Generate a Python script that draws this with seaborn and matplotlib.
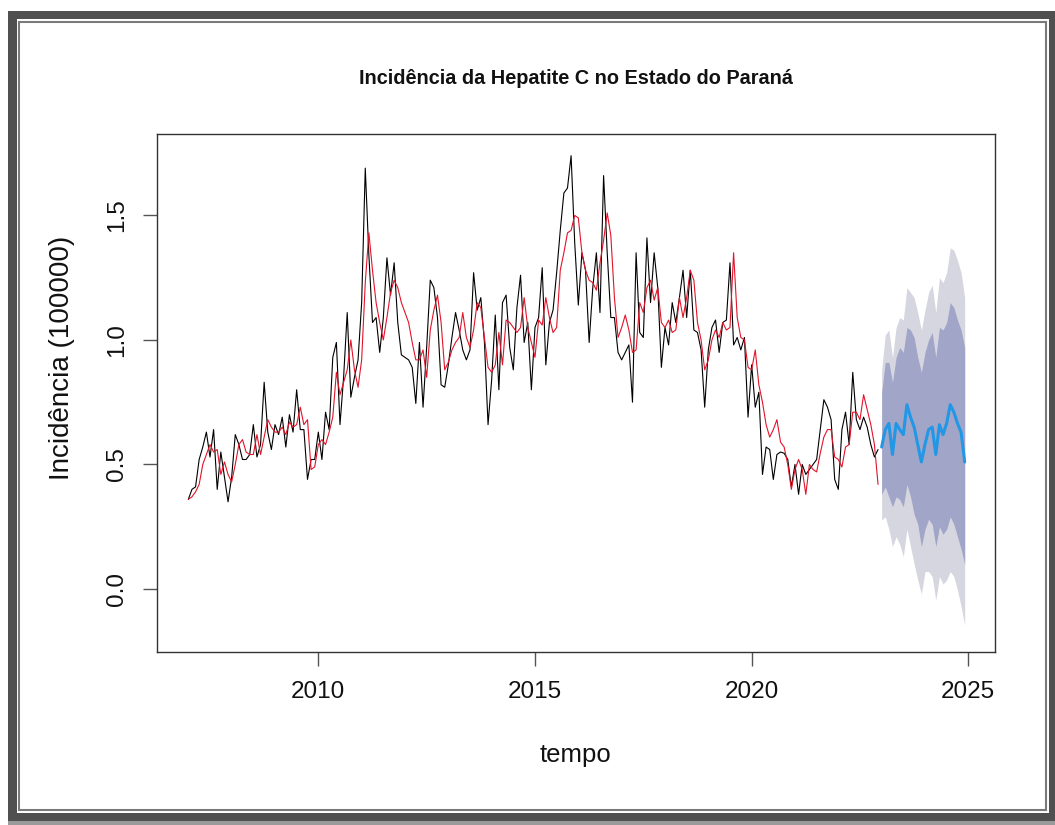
import numpy as np
import pandas as pd
import matplotlib
matplotlib.use("Agg")
import matplotlib.pyplot as plt
from matplotlib.patches import Rectangle
import seaborn as sns

# ---------------- data ----------------
start_year = 2007  # monthly series, January 2007 onwards

observed = [
    0.36, 0.40, 0.41, 0.52, 0.57, 0.63, 0.53, 0.64, 0.40, 0.55, 0.45, 0.35,
    0.45, 0.62, 0.58, 0.52, 0.52, 0.54, 0.66, 0.53, 0.58, 0.83, 0.63, 0.56,
    0.66, 0.62, 0.69, 0.57, 0.70, 0.63, 0.80, 0.64, 0.64, 0.44, 0.52, 0.52,
    0.63, 0.52, 0.71, 0.64, 0.93, 0.99, 0.66, 0.85, 1.11, 0.77, 0.85, 0.92,
    1.15, 1.69, 1.34, 1.07, 1.09, 0.95, 1.09, 1.33, 1.18, 1.31, 1.07, 0.94,
    0.93, 0.92, 0.89, 0.745, 0.99, 0.73, 0.97, 1.24, 1.21, 1.09, 0.82, 0.81,
    0.90, 1.01, 1.11, 1.04, 0.96, 0.92, 0.96, 1.27, 1.12, 1.17, 0.99, 0.66,
    0.84, 1.10, 0.80, 1.15, 1.18, 0.97, 0.88, 1.13, 1.26, 0.99, 1.07, 0.80,
    1.05, 1.09, 1.29, 0.90, 1.07, 1.12, 1.27, 1.44, 1.59, 1.61, 1.74, 1.39,
    1.14, 1.35, 1.28, 0.99, 1.21, 1.35, 1.11, 1.66, 1.35, 1.09, 1.09, 0.95,
    0.92, 0.95, 0.98, 0.75, 1.35, 1.03, 1.01, 1.41, 1.15, 1.35, 1.21, 0.89,
    1.05, 0.98, 1.15, 1.07, 1.17, 1.28, 1.09, 1.28, 1.04, 1.03, 0.96, 0.73,
    0.96, 1.05, 1.08, 0.95, 1.07, 1.08, 1.31, 0.98, 1.01, 0.96, 1.01, 0.69,
    0.90, 0.73, 0.79, 0.46, 0.57, 0.56, 0.44, 0.54, 0.55, 0.545, 0.52, 0.41,
    0.50, 0.38, 0.50, 0.46, 0.48, 0.50, 0.52, 0.64, 0.76, 0.73, 0.68, 0.44,
    0.40, 0.64, 0.71, 0.58, 0.87, 0.68, 0.64, 0.69, 0.65, 0.58, 0.53, 0.56,
]

fitted = [
    0.36, 0.37, 0.39, 0.42, 0.50, 0.54, 0.58, 0.55, 0.56, 0.46, 0.51, 0.46,
    0.43, 0.50, 0.58, 0.60, 0.55, 0.54, 0.54, 0.62, 0.54, 0.61, 0.68, 0.65,
    0.63, 0.63, 0.65, 0.62, 0.67, 0.65, 0.66, 0.73, 0.66, 0.68, 0.48, 0.49,
    0.58, 0.60, 0.58, 0.63, 0.69, 0.87, 0.78, 0.83, 0.88, 1.00, 0.88, 0.81,
    0.92, 1.23, 1.43, 1.28, 1.15, 1.07, 1.00, 1.09, 1.19, 1.24, 1.21, 1.15,
    1.11, 1.07, 0.99, 0.92, 0.92, 0.96, 0.85, 1.04, 1.12, 1.18, 1.07, 0.88,
    0.91, 0.96, 0.99, 1.01, 1.11, 1.01, 0.97, 1.04, 1.15, 1.13, 1.01, 0.89,
    0.87, 0.90, 1.03, 0.90, 1.08, 1.07, 1.05, 1.03, 1.05, 1.17, 1.05, 0.99,
    0.93, 1.08, 1.06, 1.17, 1.09, 1.03, 1.05, 1.28, 1.35, 1.43, 1.44, 1.50,
    1.49, 1.35, 1.28, 1.24, 1.23, 1.20, 1.31, 1.40, 1.51, 1.42, 1.17, 1.01,
    1.05, 1.10, 1.04, 0.95, 0.96, 1.15, 1.11, 1.21, 1.24, 1.16, 1.21, 1.07,
    1.05, 1.08, 1.03, 1.04, 1.17, 1.09, 1.17, 1.28, 1.24, 1.07, 1.00, 0.88,
    0.92, 1.00, 1.04, 1.01, 1.07, 1.04, 1.05, 1.35, 1.09, 1.01, 1.00, 0.89,
    0.88, 0.96, 0.82, 0.75, 0.66, 0.61, 0.64, 0.68, 0.59, 0.57, 0.50, 0.40,
    0.48, 0.52, 0.48, 0.38, 0.50, 0.48, 0.47, 0.545, 0.61, 0.64, 0.64, 0.53,
    0.52, 0.49, 0.57, 0.58, 0.71, 0.71, 0.68, 0.78, 0.72, 0.66, 0.58, 0.42,
]

forecast_mean = [0.57, 0.64, 0.665, 0.54, 0.665, 0.64, 0.62, 0.74, 0.69, 0.65, 0.58, 0.51,
                 0.58, 0.64, 0.65, 0.54, 0.66, 0.62, 0.665, 0.74, 0.71, 0.665, 0.63, 0.51]
upper80 = [0.79, 0.91, 0.91, 0.83, 0.93, 0.97, 0.95, 1.05, 1.04, 1.01, 0.93, 0.87,
           0.95, 1.00, 1.03, 0.93, 1.05, 1.04, 1.07, 1.15, 1.13, 1.08, 1.04, 0.97]
lower80 = [0.38, 0.41, 0.37, 0.33, 0.37, 0.36, 0.33, 0.42, 0.37, 0.30, 0.26, 0.17,
           0.24, 0.28, 0.26, 0.17, 0.25, 0.22, 0.24, 0.29, 0.26, 0.21, 0.16, 0.10]
upper95 = [0.88, 1.02, 1.04, 0.93, 1.05, 1.09, 1.08, 1.21, 1.19, 1.17, 1.11, 1.04,
           1.12, 1.19, 1.22, 1.11, 1.25, 1.23, 1.27, 1.37, 1.36, 1.32, 1.27, 1.17]
lower95 = [0.277, 0.29, 0.24, 0.17, 0.21, 0.18, 0.13, 0.24, 0.17, 0.10, 0.036, -0.02,
           0.07, 0.07, 0.05, -0.045, 0.05, 0.02, 0.036, 0.07, 0.05, -0.004, -0.07, -0.145]

xtick_values = [2010, 2015, 2020, 2025]
ytick_values = [0.0, 0.5, 1.0, 1.5]
ytick_labels = ["0.0", "0.5", "1.0", "1.5"]
title_text = "Incidência da Hepatite C no Estado do Paraná"
xlabel_text = "tempo"
ylabel_text = "Incidência (100000)"

# ---------------- style ----------------
sns.set_theme(style="white")
plt.rcParams['font.family'] = ['Liberation Sans', 'DejaVu Sans']
plt.rcParams['axes.linewidth'] = 1.0

W, H = 1055, 825
fig = plt.figure(figsize=(W / 100, H / 100), dpi=100, facecolor="white")


def px_rect(x0, y0, x1, y1, **kw):
    """rectangle given in pixel coordinates, top-left origin"""
    return Rectangle((x0 / W, (H - y1) / H), (x1 - x0) / W, (y1 - y0) / H,
                     transform=fig.transFigure, **kw)


# decorative frame
fig.add_artist(px_rect(8, 820, 1055, 825, facecolor="#9a9a9a", edgecolor="none", zorder=-5))
fig.add_artist(px_rect(8, 11, 1055, 821, facecolor="#505050", edgecolor="none", zorder=-4))
fig.add_artist(px_rect(16.5, 18.5, 1049, 813, facecolor="white", edgecolor="none", zorder=-3))
fig.add_artist(px_rect(18.7, 21.5, 1046, 809.5, facecolor="none", edgecolor="#7a7a7a",
                       linewidth=1.5, zorder=-2))

ax = fig.add_axes([157 / W, 1 - 652 / H, 838 / W, 518 / H])
ax.set_facecolor("white")

n_obs = len(observed)
t_obs = start_year + np.arange(n_obs) / 12.0
t_fc = start_year + (n_obs + np.arange(len(forecast_mean))) / 12.0

df_hist = pd.DataFrame({"tempo": t_obs, "observado": observed, "ajustado": fitted})
df_fc = pd.DataFrame({"tempo": t_fc, "media": forecast_mean,
                      "lo80": lower80, "hi80": upper80,
                      "lo95": lower95, "hi95": upper95})

ax.fill_between(df_fc["tempo"], df_fc["lo95"], df_fc["hi95"], color="#d6d6e0", lw=0, zorder=1)
ax.fill_between(df_fc["tempo"], df_fc["lo80"], df_fc["hi80"], color="#a1a5c8", lw=0, zorder=2)

sns.lineplot(data=df_hist, x="tempo", y="observado", color="black", linewidth=0.8,
             estimator=None, sort=False, ax=ax, zorder=3)
sns.lineplot(data=df_hist, x="tempo", y="ajustado", color="#e3132a", linewidth=0.8,
             estimator=None, sort=False, ax=ax, zorder=4)
sns.lineplot(data=df_fc, x="tempo", y="media", color="#2297E6", linewidth=2.2,
             estimator=None, sort=False, ax=ax, zorder=5)

# axes limits (R style 4% padding)
ax.set_xlim(2006.277, 2025.616)
ax.set_ylim(-0.253, 1.827)

ax.set_xticks(xtick_values)
ax.set_xticklabels([str(v) for v in xtick_values])
ax.set_yticks(ytick_values)
ax.set_yticklabels(ytick_labels)
for lab in ax.get_yticklabels():
    lab.set_rotation(90)
    lab.set_va("center")

ax.tick_params(axis="both", which="major", direction="out", length=10, width=1.0,
               color="#555555", labelsize=17.5, labelcolor="#111111", pad=11,
               bottom=True, left=True, top=False, right=False)
ax.grid(False)
for sp in ax.spines.values():
    sp.set_visible(True)
    sp.set_color("#333333")
    sp.set_linewidth(1.0)

ax.set_xlabel(xlabel_text, fontsize=18.5, color="#111111", va="center")
ax.xaxis.set_label_coords(0.5, (652 - 755) / 518)
ax.set_ylabel(ylabel_text, fontsize=20, color="#111111", va="center")
ax.yaxis.set_label_coords((62 - 157) / 838, (652 - 358) / 518)

fig.text(576 / W, 1 - 78 / H, title_text, ha="center", va="center",
         fontsize=14.3, fontweight="bold", color="#111111")

fig.savefig("out.png", dpi=100, facecolor="white")
